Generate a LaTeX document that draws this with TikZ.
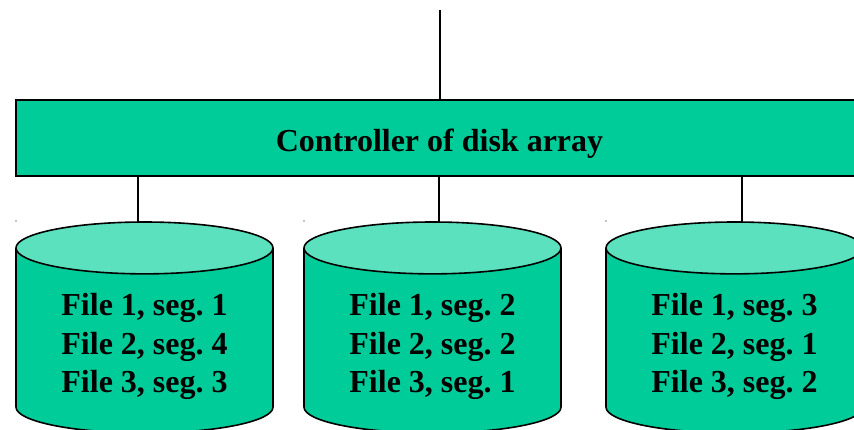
\documentclass[tikz,border=0pt]{standalone}
\usepackage{fontspec}
\setmainfont{Liberation Serif}
\usetikzlibrary{positioning}
\usetikzlibrary{shapes.geometric}
\definecolor{diskbody}{RGB}{0,204,153}
\definecolor{disktop}{RGB}{92,225,190}
% the three lines of a disk; the rule pushes them down in the body
\newcommand{\segs}[3]{\rule{0pt}{28pt}File 1, seg. #1\\File 2, seg. #2\\File 3, seg. #3}
\tikzset {
  box line/.style = {
    draw = black,
    line width = 1.6pt
  },
  % the long bar on top
  ctrl/.style = {
    box line,
    rectangle,
    fill = diskbody,
    minimum width = 847pt,
    minimum height = 76pt,
    outer sep = 0,
    text height = 33pt,
    text depth = 7pt,
    font = \fontsize{32}{38.5}\selectfont\bfseries
  },
  % one disk of the array
  disk/.style = {
    box line,
    cylinder,
    shape border rotate = 90,
    aspect = 0.3,
    cylinder uses custom fill,
    cylinder body fill = diskbody,
    cylinder end fill = disktop,
    minimum width = 257pt,
    minimum height = 211pt,
    outer sep = 0,
    anchor = shape center,
    align = center,
    font = \fontsize{32}{38.5}\selectfont\bfseries\frenchspacing
  },
  wire/.style = {
    draw = black,
    line width = 1.3pt
  },
  speck/.style = {
    fill = black,
    circle,
    minimum size = 1.2pt,
    inner sep = 0
  }
}
\begin{document}
\begin{tikzpicture}[x=1pt,y=-1pt]
    \useasboundingbox (0,0) rectangle (854,429);
    \node[ctrl] (ctrl) at (439.5,138) {Controller of disk array};
    \node[disk] (disk1) at (144.5,327.5) {\segs{1}{4}{3}};
    \node[disk] (disk2) at (432.5,327.5) {\segs{2}{2}{1}};
    \node[disk] (disk3) at (734.5,327.5) {\segs{3}{1}{2}};

    \coordinate (host) at (440,10);
    \coordinate (top1) at (138,222);
    \coordinate (top2) at (439,222);
    \coordinate (top3) at (742,222);

    \draw[wire] (host) -- (ctrl.north -| host);
    \foreach \i in {1,2,3} {
      \draw[wire] (ctrl.south -| top\i) -- (top\i);
    }

    \node[speck] (speck1) at (16,221) {};
    \node[speck] (speck2) at (304,221) {};
    \node[speck] (speck3) at (606,221) {};
\end{tikzpicture}
\end{document}
